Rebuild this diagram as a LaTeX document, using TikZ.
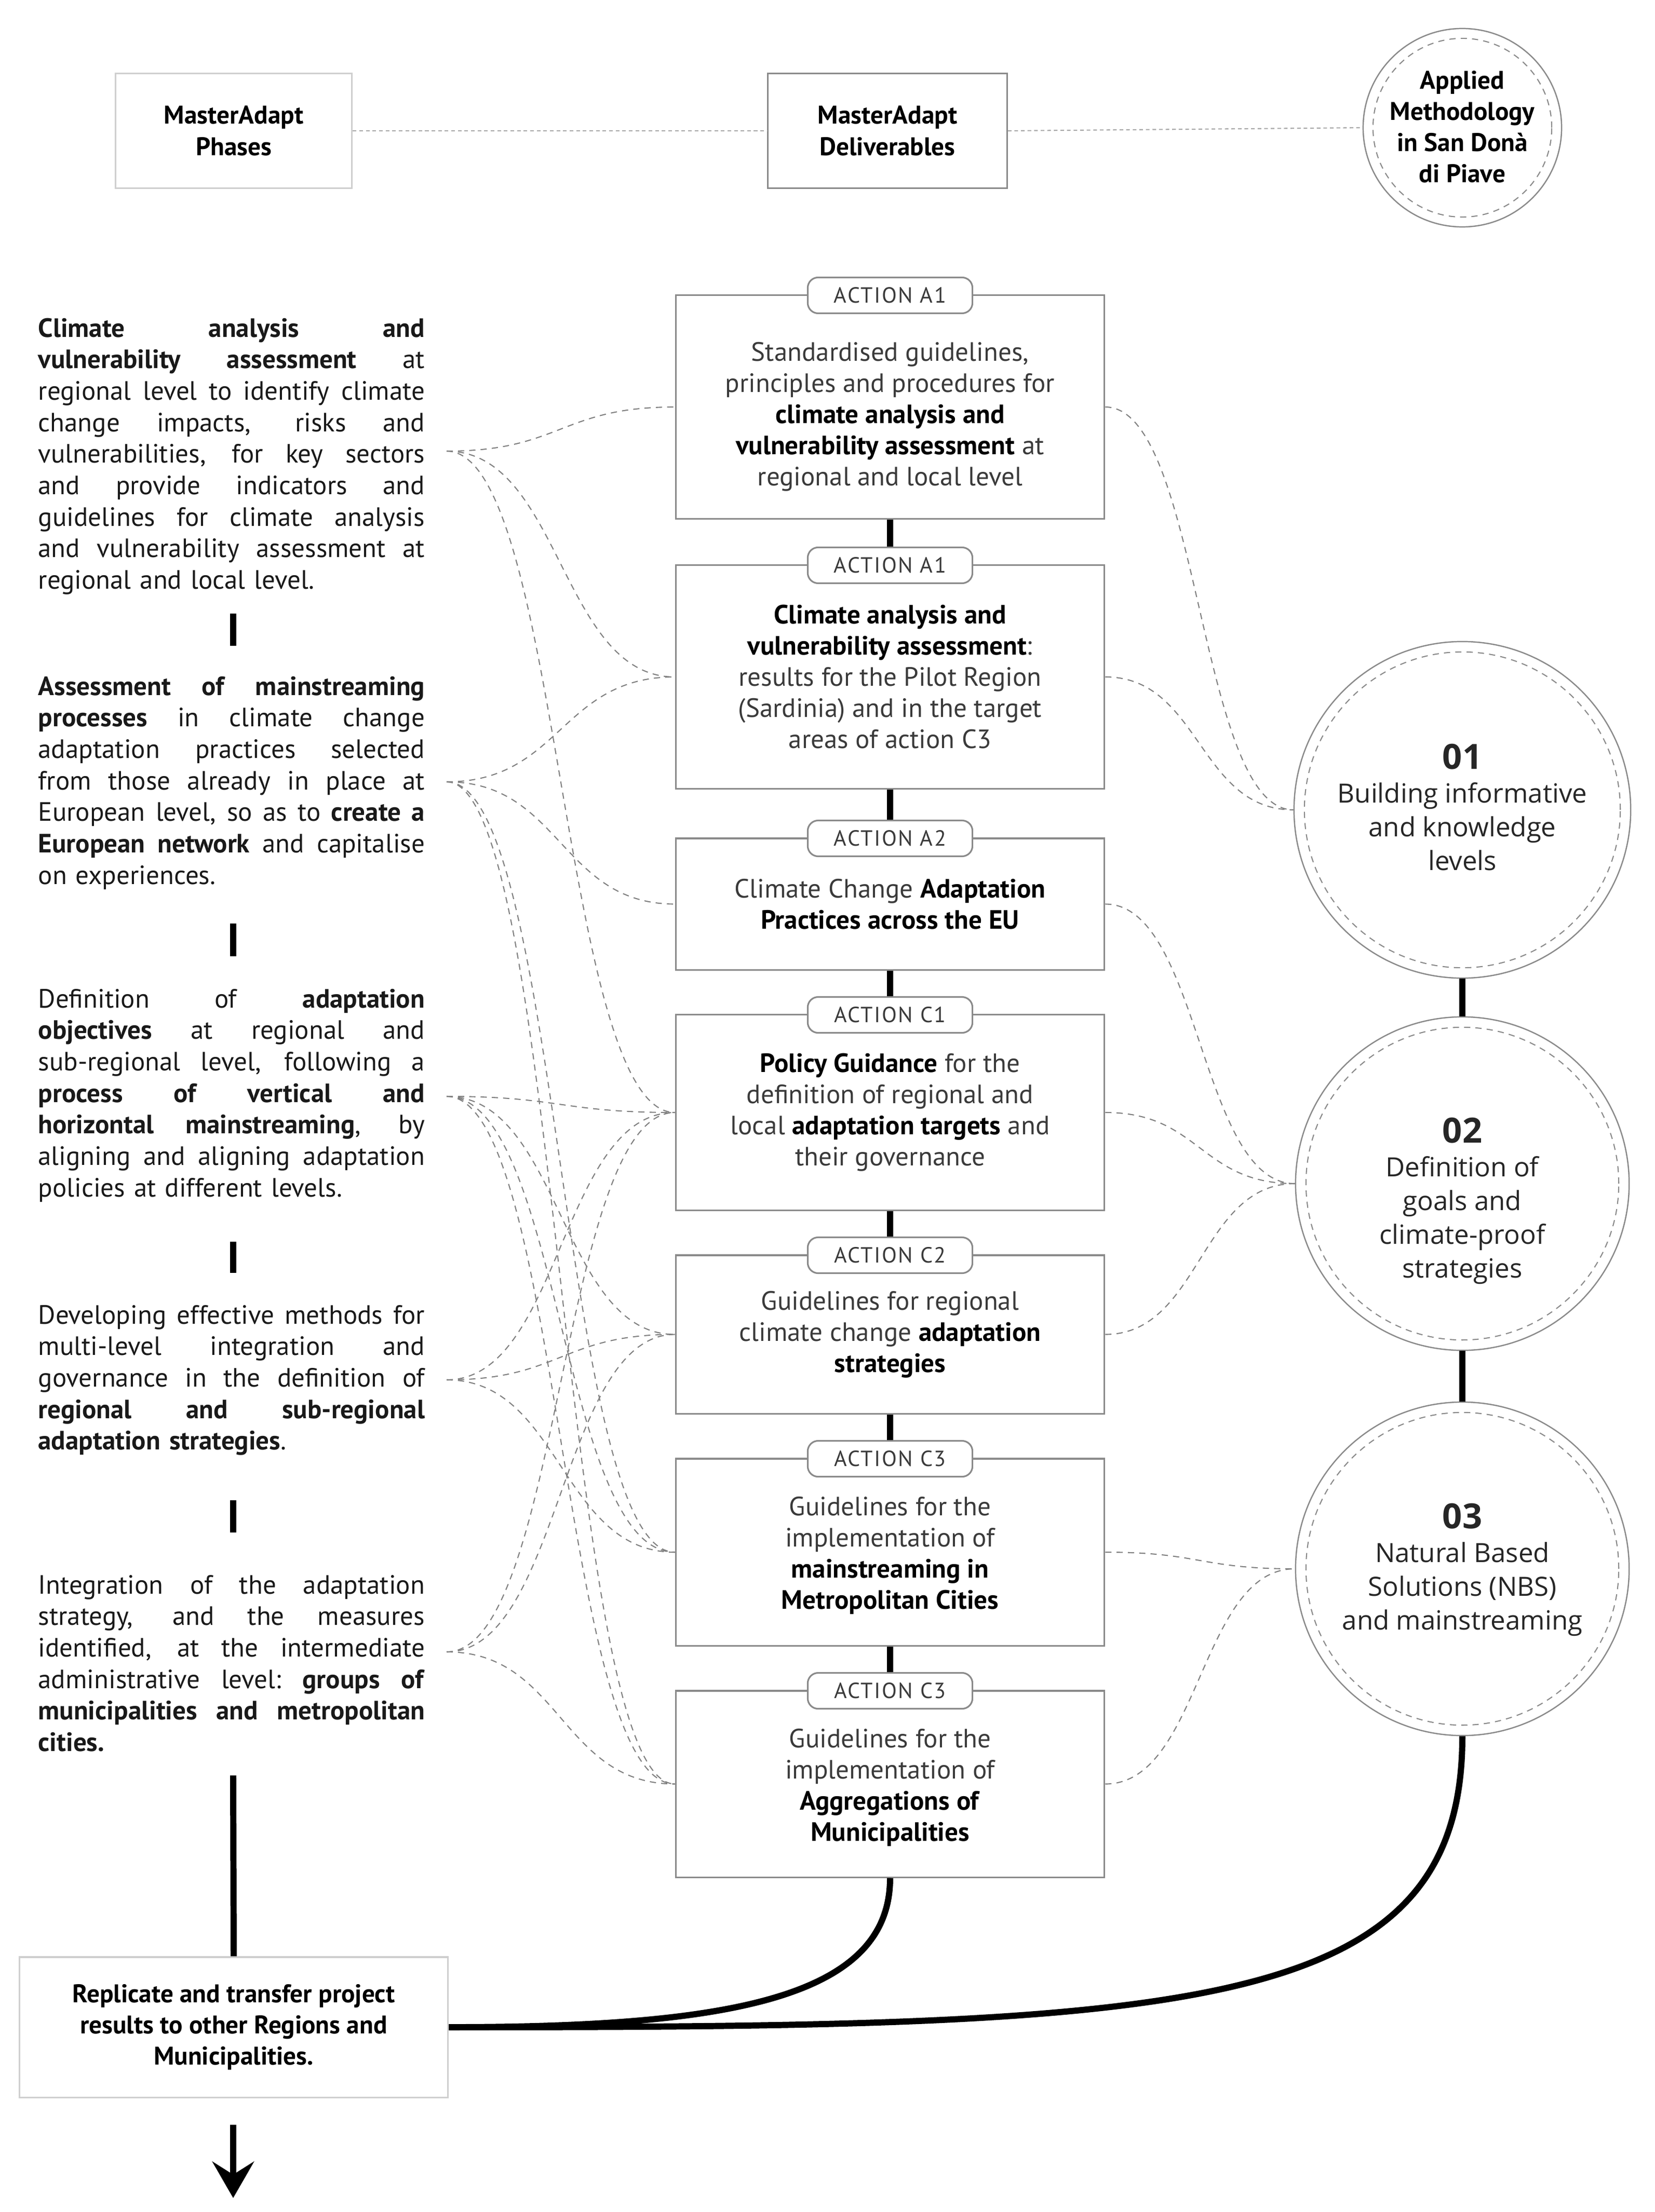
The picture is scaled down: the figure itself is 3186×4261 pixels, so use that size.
\documentclass[tikz,border=0pt]{standalone}
\usepackage{fontspec}
\setmainfont{PT Sans}
\newfontfamily\circfont{Open Sans}
\usetikzlibrary{arrows.meta}
\definecolor{boxgray}{HTML}{8A8A8A}
\definecolor{lightbox}{HTML}{CFCFCF}
\definecolor{dashgray}{HTML}{808080}
\definecolor{txtgray}{HTML}{3A3A3A}
\newcommand{\LW}{7.44cm}
\newcommand{\jline}[1]{\makebox[\LW][s]{\spaceskip=0.3em plus 3em\relax\xspaceskip=0.3em plus 3em\relax #1}}
\begin{document}
\begin{tikzpicture}[x=0.01cm,y=-0.01cm,
 lefttext/.style={anchor=north west,inner sep=0pt,text width=7.44cm,align=left,font=\fontsize{14.5}{17.25}\selectfont,text=black!90},
 dbox/.style={draw=boxgray,line width=0.9pt,fill=white,minimum width=8.25cm,inner sep=0pt,align=center,font=\fontsize{14.5}{17.07}\selectfont,text=txtgray},
 pill/.style={draw=boxgray,line width=0.9pt,fill=white,rounded corners=0.2cm,minimum width=3.17cm,minimum height=0.69cm,inner sep=0pt,font=\fontsize{12}{14}\selectfont\addfontfeatures{LetterSpace=6},text=txtgray},
 hbox/.style={line width=0.9pt,fill=white,minimum width=4.55cm,minimum height=2.21cm,inner sep=0pt,align=center,font=\fontsize{14}{17.07}\selectfont\bfseries},
 blink/.style={line width=3.4pt,draw=black},
 conn/.style={draw=dashgray,line width=0.6pt,dash pattern=on 3.4pt off 2.8pt},
 hdash/.style={draw=dashgray!70,line width=0.6pt,dash pattern=on 2pt off 1.6pt},
 ocirc/.style={circle,draw=boxgray,line width=0.7pt,fill=white,inner sep=0pt},
 icirc/.style={draw=boxgray,line width=0.6pt,dash pattern=on 3.4pt off 2.8pt},
 ctext/.style={align=center,font=\circfont\fontsize{14.5}{18.5}\selectfont,text=black!85,inner sep=0pt},
 sepbar/.style={line width=3.4pt,draw=black}
]
\fill[white] (0,0) rectangle (3186,4261);
\useasboundingbox (0,0) rectangle (3186,4261);

% ---------- header ----------
\node[hbox,draw=lightbox] (ph) at (450,252) {MasterAdapt\\Phases};
\node[hbox,draw=boxgray,minimum width=4.60cm] (dl) at (1709,252) {MasterAdapt\\Deliverables};
\node[ocirc,minimum size=3.82cm] (am) at (2816,246) {};
\draw[icirc] (am.center) circle[radius=1.72cm];
\node[align=center,font=\fontsize{14}{17.07}\selectfont\bfseries,inner sep=0pt] (amt) at (2816,244) {Applied\\Methodology\\in San Donà\\di Piave};
\draw[hdash] (ph.east) -- (dl.west);
\draw[hdash] (dl.east) -- (am.west);

% ---------- left column ----------
\node[lefttext] (t1) at (73,606) {\strut\jline{\textbf{Climate analysis and}}\\
\jline{\textbf{vulnerability assessment} at}\\
\jline{regional level to identify climate}\\
\jline{change impacts, risks and}\\
\jline{vulnerabilities, for key sectors}\\
\jline{and provide indicators and}\\
\jline{guidelines for climate analysis}\\
\jline{and vulnerability assessment at}\\
regional and local level.};

\node[lefttext] (t2) at (73,1296) {\strut\jline{\textbf{Assessment of mainstreaming}}\\
\jline{\textbf{processes} in climate change}\\
\jline{adaptation practices selected}\\
\jline{from those already in place at}\\
\jline{European level, so as to \textbf{create a}}\\
\jline{\textbf{European network} and capitalise}\\
on experiences.};

\node[lefttext] (t3) at (73,1898) {\strut\jline{Definition of \textbf{adaptation}}\\
\jline{\textbf{objectives} at regional and}\\
\jline{sub-regional level, following a}\\
\jline{\textbf{process of vertical and}}\\
\jline{\textbf{horizontal mainstreaming}, by}\\
\jline{aligning and aligning adaptation}\\
policies at different levels.};

\node[lefttext] (t4) at (73,2507) {\strut\jline{Developing effective methods for}\\
\jline{multi-level integration and}\\
\jline{governance in the definition of}\\
\jline{\textbf{regional and sub-regional}}\\
\textbf{adaptation strategies}.};

\node[lefttext] (t5) at (73,3027) {\strut\jline{Integration of the adaptation}\\
\jline{strategy, and the measures}\\
\jline{identified, at the intermediate}\\
\jline{administrative level: \textbf{groups of}}\\
\jline{\textbf{municipalities and metropolitan}}\\
\textbf{cities.}};

\draw[sepbar] (449,1182) -- (449,1244);
\draw[sepbar] (449,1779) -- (449,1842);
\draw[sepbar] (449,2392) -- (449,2452);
\draw[sepbar] (449,2890) -- (449,2952);

\coordinate (a1) at (860,869);
\coordinate (a2) at (860,1506);
\coordinate (a3) at (860,2112);
\coordinate (a4) at (860,2658);
\coordinate (a5) at (860,3182);

% ---------- circles ----------
\node[ocirc,minimum size=6.48cm] (c1) at (2816,1560) {};
\draw[icirc] (c1.center) circle[radius=3.04cm];
\node[ctext] (c1t) at (2816,1555) {{\fontsize{19}{20}\selectfont\bfseries 01}\\Building informative\\and knowledge\\levels};
\node[ocirc,minimum size=6.42cm] (c2) at (2816,2280) {};
\draw[icirc] (c2.center) circle[radius=3.01cm];
\node[ctext] (c2t) at (2816,2313) {{\fontsize{19}{20}\selectfont\bfseries 02}\\Definition of\\goals and\\climate-proof\\strategies};
\node[ocirc,minimum size=6.42cm] (c3) at (2816,3022) {};
\draw[icirc] (c3.center) circle[radius=3.01cm];
\node[ctext] (c3t) at (2816,3024) {{\fontsize{19}{20}\selectfont\bfseries 03}\\Natural Based\\Solutions (NBS)\\and mainstreaming};
\draw[blink] (c1.south) -- (c2.north);
\draw[blink] (c2.south) -- (c3.north);

% ---------- replicate box ----------
\node[hbox,draw=lightbox,minimum width=8.25cm,minimum height=2.70cm] (rep) at (450,3905) {Replicate and transfer project\\results to other Regions and\\Municipalities.};
\coordinate (l5) at (449,3420);
\draw[blink] (l5) -- (rep.north);
\coordinate (ar1) at (449,4093);
\coordinate (ar2) at (449,4234);
\draw[blink,-{Stealth[length=0.7cm,width=0.8cm,inset=0.25cm]}] (ar1) -- (ar2);

% ---------- deliverable boxes ----------
\node[dbox,minimum height=4.30cm] (b1) at (1714,784) {\rule{0pt}{21pt}Standardised guidelines,\\principles and procedures for\\\textcolor{black}{\textbf{climate analysis and}}\\\textcolor{black}{\textbf{vulnerability assessment}} at\\regional and local level};
\node[dbox,minimum height=4.30cm] (b2) at (1714,1304) {\textcolor{black}{\textbf{Climate analysis and}}\\\textcolor{black}{\textbf{vulnerability assessment}}:\\results for the Pilot Region\\(Sardinia) and in the target\\areas of action C3};
\node[dbox,minimum height=2.53cm] (b3) at (1714,1741.5) {Climate Change \textcolor{black}{\textbf{Adaptation}}\\\textcolor{black}{\textbf{Practices across the EU}}};
\node[dbox,minimum height=3.76cm] (b4) at (1714,2143) {\textcolor{black}{\textbf{Policy Guidance}} for the\\definition of regional and\\local \textcolor{black}{\textbf{adaptation targets}} and\\their governance};
\node[dbox,minimum height=3.05cm] (b5) at (1714,2570.5) {Guidelines for regional\\climate change \textcolor{black}{\textbf{adaptation}}\\\textcolor{black}{\textbf{strategies}}};
\node[dbox,minimum height=3.60cm] (b6) at (1714,2990) {\rule{0pt}{14pt}Guidelines for the\\implementation of\\\textcolor{black}{\textbf{mainstreaming in}}\\\textcolor{black}{\textbf{Metropolitan Cities}}};
\node[dbox,minimum height=3.59cm] (b7) at (1714,3436.5) {\rule{0pt}{14pt}Guidelines for the\\implementation of\\\textcolor{black}{\textbf{Aggregations of}}\\\textcolor{black}{\textbf{Municipalities}}};

\node[pill] (p1) at (1714,569) {ACTION A1};
\node[pill] (p2) at (1714,1089) {ACTION A1};
\node[pill] (p3) at (1714,1615) {ACTION A2};
\node[pill] (p4) at (1714,1955) {ACTION C1};
\node[pill] (p5) at (1714,2418) {ACTION C2};
\node[pill] (p6) at (1714,2810) {ACTION C3};
\node[pill] (p7) at (1714,3257) {ACTION C3};

\draw[blink] (b1.south) -- (p2.north);
\draw[blink] (b2.south) -- (p3.north);
\draw[blink] (b3.south) -- (p4.north);
\draw[blink] (b4.south) -- (p5.north);
\draw[blink] (b5.south) -- (p6.north);
\draw[blink] (b6.south) -- (p7.north);

% ---------- dashed connectors ----------
\foreach \s/\t in {a1/b1,a1/b2,a1/b4,a2/b2,a2/b3,a2/b6,a2/b7,a3/b4,a3/b5,a3/b6,a3/b7,a4/b4,a4/b5,a4/b6,a5/b4,a5/b5,a5/b7}
  \draw[conn] (\s) .. controls +(220,0) and +(-220,0) .. (\t.west);
\foreach \s/\t in {b1/c1,b2/c1,b3/c2,b4/c2,b5/c2,b6/c3,b7/c3}
  \draw[conn] (\s.east) .. controls +(183,0) and +(-183,0) .. (\t.west);

% ---------- bottom curves ----------
\draw[blink] (b7.south) .. controls (1714,3850) and (1400,3905) .. (rep.east);
\draw[blink] (c3.south) .. controls (2816,3880) and (2300,3905) .. (rep.east);
\end{tikzpicture}
\end{document}
